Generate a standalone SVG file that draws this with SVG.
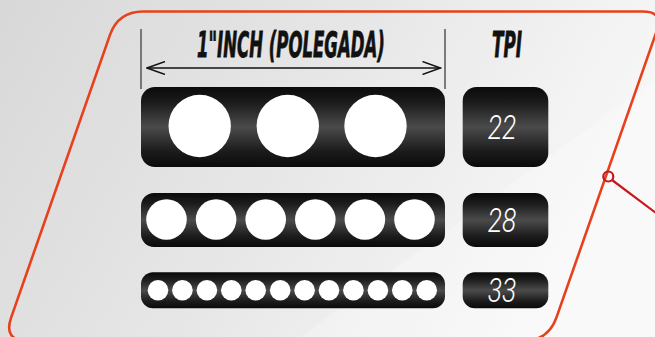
<svg xmlns="http://www.w3.org/2000/svg" width="655" height="337" viewBox="0 0 655 337">
  <defs>
    <linearGradient id="bg" x1="0" y1="0" x2="1" y2="0.3">
      <stop offset="0" stop-color="#d8d8d8"/>
      <stop offset="0.5" stop-color="#e6e6e6"/>
      <stop offset="1" stop-color="#f7f7f7"/>
    </linearGradient>
    <linearGradient id="bar" x1="0" y1="0" x2="0" y2="1">
      <stop offset="0" stop-color="#0a0a0a"/>
      <stop offset="0.2" stop-color="#1c1c1c"/>
      <stop offset="0.5" stop-color="#4b4b4b"/>
      <stop offset="0.8" stop-color="#1c1c1c"/>
      <stop offset="1" stop-color="#0a0a0a"/>
    </linearGradient>
    <marker id="chev" viewBox="0 0 20 14" refX="19" refY="7" markerWidth="20" markerHeight="14" markerUnits="userSpaceOnUse" orient="auto-start-reverse">
      <path d="M1 0.5 L19 7 L1 13.5" fill="none" stroke="#111" stroke-width="1.4"/>
    </marker>
    <style>
      .lbl { font-family: "DejaVu Sans Condensed", "Liberation Sans", sans-serif; font-weight: bold; font-style: italic; font-size: 35px; fill: #111; stroke: #111; stroke-width: 0.8; }
      .num { font-family: Roboto, "Liberation Sans", sans-serif; font-weight: 300; font-style: italic; font-size: 33px; fill: #fff; text-anchor: middle; }
      .bar { fill: url(#bar); }
      .hole { fill: #fff; }
      .tick { stroke: #555; stroke-width: 1.5; }
    </style>
  </defs>
  <rect x="0" y="0" width="655" height="337" fill="url(#bg)"/>
  <polygon points="300,337 655,80 655,337" fill="#ffffff" opacity="0.25"/>

  <g id="frame">
    <path d="M143 11.5 L643 11.5 Q663.5 11.5 656.9 30.4 L556.5 317.4 Q548.2 341 523 341 L28 341 Q2.9 341 11.2 317.4 L109.9 35.1 Q118.2 11.5 143 11.5 Z" fill="none" stroke="#e8401c" stroke-width="2.6"/>
  </g>

  <g id="callout">
    <line x1="612" y1="180" x2="660" y2="216" stroke="#c8161d" stroke-width="2.2"/>
    <circle cx="608.3" cy="176.5" r="5" fill="none" stroke="#c8161d" stroke-width="2.2"/>
  </g>

  <g id="dimension">
    <line class="tick" x1="141" y1="29" x2="141" y2="89"/>
    <line class="tick" x1="445" y1="29" x2="445" y2="89"/>
    <line x1="147" y1="68" x2="440.5" y2="68" stroke="#111" stroke-width="1.4" marker-start="url(#chev)" marker-end="url(#chev)"/>
    <text class="lbl" transform="translate(197 57) scale(0.6 1)" x="0" y="0" textLength="313" lengthAdjust="spacingAndGlyphs">1"INCH (POLEGADA)</text>
  </g>

  <g id="tpi-header">
    <text class="lbl" transform="translate(492 57) scale(0.6 1)" x="0" y="0" textLength="50" lengthAdjust="spacingAndGlyphs">TPI</text>
  </g>

  <g id="bar-22">
    <rect class="bar" x="141" y="87" width="304" height="80" rx="14"/>
    <circle class="hole" cx="199.7" cy="126" r="31.2"/>
    <circle class="hole" cx="287.8" cy="126" r="31.2"/>
    <circle class="hole" cx="375.5" cy="126" r="31.2"/>
  </g>
  <g id="tpi-22">
    <rect class="bar" x="462.7" y="87" width="85.6" height="80" rx="14"/>
    <text class="num" transform="translate(502 138.5) scale(0.8 1)" x="0" y="0">22</text>
  </g>

  <g id="bar-28">
    <rect class="bar" x="141" y="193" width="304" height="54" rx="13"/>
    <circle class="hole" cx="166.5" cy="219.5" r="20.3"/>
    <circle class="hole" cx="216.1" cy="219.5" r="20.3"/>
    <circle class="hole" cx="265.7" cy="219.5" r="20.3"/>
    <circle class="hole" cx="315.3" cy="219.5" r="20.3"/>
    <circle class="hole" cx="364.9" cy="219.5" r="20.3"/>
    <circle class="hole" cx="414.5" cy="219.5" r="20.3"/>
  </g>
  <g id="tpi-28">
    <rect class="bar" x="462.7" y="193" width="85.6" height="54" rx="13"/>
    <text class="num" transform="translate(502 232) scale(0.8 1)" x="0" y="0">28</text>
  </g>

  <g id="bar-33">
    <rect class="bar" x="141" y="272.3" width="304" height="36" rx="12"/>
    <circle class="hole" cx="158" cy="290.3" r="10.3"/>
    <circle class="hole" cx="182.4" cy="290.3" r="10.3"/>
    <circle class="hole" cx="206.9" cy="290.3" r="10.3"/>
    <circle class="hole" cx="231.3" cy="290.3" r="10.3"/>
    <circle class="hole" cx="255.7" cy="290.3" r="10.3"/>
    <circle class="hole" cx="280.2" cy="290.3" r="10.3"/>
    <circle class="hole" cx="304.6" cy="290.3" r="10.3"/>
    <circle class="hole" cx="329" cy="290.3" r="10.3"/>
    <circle class="hole" cx="353.4" cy="290.3" r="10.3"/>
    <circle class="hole" cx="377.9" cy="290.3" r="10.3"/>
    <circle class="hole" cx="402.3" cy="290.3" r="10.3"/>
    <circle class="hole" cx="426.7" cy="290.3" r="10.3"/>
  </g>
  <g id="tpi-33">
    <rect class="bar" x="462.7" y="272.3" width="85.6" height="36" rx="12"/>
    <text class="num" transform="translate(502 302) scale(0.8 1)" x="0" y="0">33</text>
  </g>
</svg>
